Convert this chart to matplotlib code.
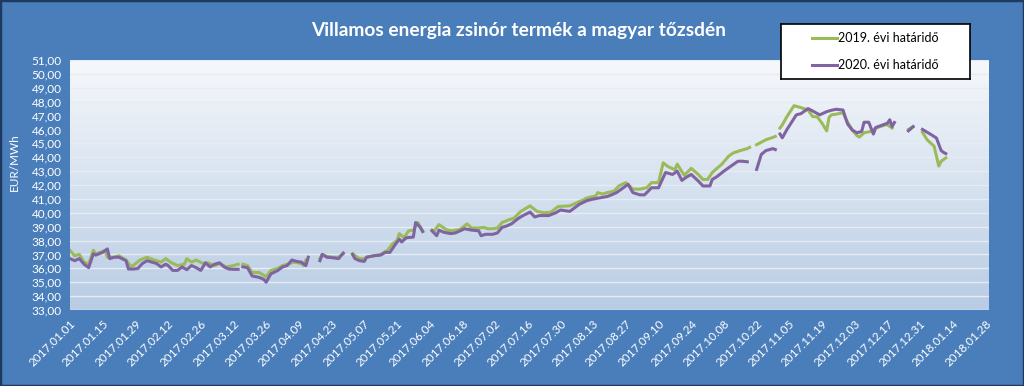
import numpy as np
import pandas as pd
import matplotlib
matplotlib.use("Agg")
import matplotlib.pyplot as plt
from matplotlib.colors import LinearSegmentedColormap
from matplotlib.lines import Line2D
from matplotlib.patches import Rectangle

plt.rcParams["font.family"] = ["Lato", "DejaVu Sans"]

title = "Villamos energia zsinór termék a magyar tőzsdén"
ylabel = "EUR/MWh"
label_2019 = "2019. évi határidő"
label_2020 = "2020. évi határidő"

# 2019. évi határidő (NaN = nincs kereskedés, szakadás a vonalban)
green_dates = [
    "2017-01-01", "2017-01-03", "2017-01-05", "2017-01-07", "2017-01-09", "2017-01-11", "2017-01-12",
    "2017-01-14", "2017-01-16", "2017-01-17", "2017-01-20", "2017-01-22", "2017-01-25", "2017-01-27",
    "2017-01-28", "2017-01-31", "2017-02-03", "2017-02-06", "2017-02-09", "2017-02-11", "2017-02-13",
    "2017-02-16", "2017-02-19", "2017-02-20", "2017-02-22", "2017-02-24", "2017-02-27", "2017-03-01",
    "2017-03-04", "2017-03-06", "2017-03-09", "2017-03-12", "2017-03-14", "2017-03-15", "2017-03-16",
    "2017-03-18", "2017-03-20", "2017-03-23", "2017-03-25", "2017-03-26", "2017-03-28", "2017-03-31",
    "2017-04-02", "2017-04-05", "2017-04-07", "2017-04-10", "2017-04-11", "2017-04-12", "2017-04-15",
    "2017-04-18", "2017-04-19", "2017-04-21", "2017-04-24", "2017-04-26", "2017-04-28", "2017-04-30",
    "2017-05-02", "2017-05-04", "2017-05-05", "2017-05-07", "2017-05-08", "2017-05-11", "2017-05-14",
    "2017-05-17", "2017-05-19", "2017-05-21", "2017-05-22", "2017-05-24", "2017-05-26", "2017-05-28",
    "2017-05-30", "2017-05-31", "2017-06-01", "2017-06-03", "2017-06-05", "2017-06-06", "2017-06-08",
    "2017-06-11", "2017-06-13", "2017-06-15", "2017-06-17", "2017-06-20", "2017-06-22", "2017-06-25",
    "2017-06-27", "2017-06-29", "2017-07-01", "2017-07-03", "2017-07-05", "2017-07-08", "2017-07-10",
    "2017-07-13", "2017-07-17", "2017-07-20", "2017-07-23", "2017-07-26", "2017-07-29", "2017-08-03",
    "2017-08-07", "2017-08-09", "2017-08-10", "2017-08-12", "2017-08-14", "2017-08-15", "2017-08-17",
    "2017-08-19", "2017-08-22", "2017-08-24", "2017-08-27", "2017-08-30", "2017-09-02", "2017-09-05",
    "2017-09-07", "2017-09-10", "2017-09-12", "2017-09-14", "2017-09-17", "2017-09-18", "2017-09-21",
    "2017-09-24", "2017-09-27", "2017-09-29", "2017-10-01", "2017-10-03", "2017-10-05", "2017-10-07",
    "2017-10-10", "2017-10-12", "2017-10-15", "2017-10-18", "2017-10-19", "2017-10-20", "2017-10-22",
    "2017-10-26", "2017-10-29", "2017-10-30", "2017-10-31", "2017-11-01", "2017-11-02", "2017-11-04",
    "2017-11-07", "2017-11-10", "2017-11-13", "2017-11-15", "2017-11-17", "2017-11-19", "2017-11-21",
    "2017-11-22", "2017-11-23", "2017-11-25", "2017-11-28", "2017-11-30", "2017-12-02", "2017-12-04",
    "2017-12-05", "2017-12-07", "2017-12-10", "2017-12-12", "2017-12-14", "2017-12-16", "2017-12-17",
    "2017-12-19", "2017-12-22", "2017-12-26", "2017-12-28", "2017-12-30", "2018-01-01", "2018-01-03",
    "2018-01-06", "2018-01-08", "2018-01-09", "2018-01-11",
]
green_values = [
    37.29, 36.9, 37.0, 36.45, 36.3, 37.3, 37.05,
    37.15, 37.3, 36.8, 36.8, 36.9, 36.6, 36.15,
    36.2, 36.6, 36.8, 36.6, 36.45, 36.7, 36.45,
    36.2, 36.3, 36.7, 36.45, 36.6, 36.35, 36.4,
    36.2, 36.35, 36.1, 36.2, 36.3, np.nan, 36.3,
    36.2, 35.7, 35.7, 35.5, 35.4, 35.85, 36.0,
    36.2, 36.35, 36.45, 36.35, 36.2, 36.6, np.nan,
    36.7, 37.0, 36.85, 36.8, 36.8, 37.05, np.nan,
    37.05, 36.8, 36.7, 36.7, 36.8, 36.9, 37.0,
    37.3, 37.75, 38.0, 38.5, 38.2, 38.7, 38.75,
    39.3, 38.95, 38.7, np.nan, 38.76, 38.7, 39.15,
    38.8, 38.7, 38.75, 38.8, 39.2, 38.9, 38.9,
    38.95, 38.85, 38.85, 38.9, 39.3, 39.5, 39.6,
    40.1, 40.5, 40.1, 40.0, 40.05, 40.45, 40.5,
    40.8, 40.93, 41.05, 41.14, 41.2, 41.45, 41.35,
    41.45, 41.57, 41.93, 42.17, 41.7, 41.7, 41.81,
    42.17, 42.17, 43.6, 43.33, 43.1, 43.5, 42.7,
    43.2, 42.76, 42.4, 42.4, 42.9, 43.2, 43.48,
    44.07, 44.31, 44.48, 44.62, 44.71, np.nan, 44.9,
    45.26, 45.43, 45.5, np.nan, 46.1, 46.33, 46.93,
    47.71, 47.57, 47.4, 46.93, 46.9, 46.45, 45.9,
    46.86, 47.05, 47.1, 47.2, 46.5, 45.95, 45.55,
    45.45, 45.76, 45.86, 46.1, 46.21, 46.33, 46.33,
    46.1, np.nan, 46.0, 46.2, np.nan, 45.8, 45.26,
    44.79, 43.36, 43.71, 43.95,
]

# 2020. évi határidő
purple_dates = [
    "2017-01-01", "2017-01-03", "2017-01-05", "2017-01-07", "2017-01-09", "2017-01-11", "2017-01-12",
    "2017-01-15", "2017-01-17", "2017-01-18", "2017-01-20", "2017-01-22", "2017-01-25", "2017-01-26",
    "2017-01-28", "2017-01-30", "2017-02-01", "2017-02-03", "2017-02-05", "2017-02-07", "2017-02-09",
    "2017-02-11", "2017-02-12", "2017-02-14", "2017-02-16", "2017-02-18", "2017-02-20", "2017-02-22",
    "2017-02-24", "2017-02-26", "2017-02-28", "2017-03-02", "2017-03-04", "2017-03-06", "2017-03-08",
    "2017-03-10", "2017-03-12", "2017-03-14", "2017-03-15", "2017-03-16", "2017-03-18", "2017-03-20",
    "2017-03-23", "2017-03-25", "2017-03-26", "2017-03-28", "2017-03-31", "2017-04-02", "2017-04-04",
    "2017-04-06", "2017-04-08", "2017-04-10", "2017-04-12", "2017-04-13", "2017-04-15", "2017-04-18",
    "2017-04-19", "2017-04-21", "2017-04-24", "2017-04-26", "2017-04-28", "2017-04-30", "2017-05-02",
    "2017-05-03", "2017-05-05", "2017-05-07", "2017-05-08", "2017-05-11", "2017-05-14", "2017-05-16",
    "2017-05-18", "2017-05-20", "2017-05-22", "2017-05-23", "2017-05-25", "2017-05-28", "2017-05-29",
    "2017-05-31", "2017-06-01", "2017-06-03", "2017-06-05", "2017-06-07", "2017-06-08", "2017-06-10",
    "2017-06-13", "2017-06-15", "2017-06-19", "2017-06-22", "2017-06-25", "2017-06-26", "2017-06-28",
    "2017-07-01", "2017-07-03", "2017-07-05", "2017-07-07", "2017-07-09", "2017-07-12", "2017-07-14",
    "2017-07-17", "2017-07-19", "2017-07-21", "2017-07-25", "2017-07-28", "2017-07-30", "2017-08-03",
    "2017-08-07", "2017-08-10", "2017-08-12", "2017-08-15", "2017-08-19", "2017-08-21", "2017-08-23",
    "2017-08-26", "2017-08-28", "2017-08-30", "2017-09-02", "2017-09-04", "2017-09-07", "2017-09-10",
    "2017-09-13", "2017-09-16", "2017-09-18", "2017-09-20", "2017-09-22", "2017-09-24", "2017-09-27",
    "2017-09-29", "2017-10-02", "2017-10-03", "2017-10-05", "2017-10-08", "2017-10-11", "2017-10-14",
    "2017-10-16", "2017-10-18", "2017-10-20", "2017-10-22", "2017-10-24", "2017-10-26", "2017-10-29",
    "2017-10-30", "2017-10-31", "2017-11-01", "2017-11-02", "2017-11-04", "2017-11-08", "2017-11-10",
    "2017-11-13", "2017-11-15", "2017-11-18", "2017-11-21", "2017-11-23", "2017-11-25", "2017-11-28",
    "2017-11-29", "2017-11-30", "2017-12-02", "2017-12-04", "2017-12-06", "2017-12-07", "2017-12-09",
    "2017-12-11", "2017-12-12", "2017-12-15", "2017-12-17", "2017-12-18", "2017-12-19", "2017-12-20",
    "2017-12-22", "2017-12-26", "2017-12-28", "2017-12-30", "2018-01-01", "2018-01-05", "2018-01-07",
    "2018-01-09", "2018-01-10", "2018-01-11",
]
purple_values = [
    36.7, 36.55, 36.7, 36.3, 36.05, 37.05, 36.95,
    37.15, 37.4, 36.7, 36.8, 36.8, 36.55, 35.95,
    35.95, 35.98, 36.35, 36.55, 36.45, 36.35, 36.1,
    36.3, 36.2, 35.85, 35.85, 36.1, 35.9, 36.2,
    36.05, 35.85, 36.4, 36.1, 36.3, 36.4, 36.1,
    35.95, 35.93, 35.93, np.nan, 36.1, 36.05, 35.45,
    35.35, 35.2, 35.0, 35.6, 35.85, 36.1, 36.2,
    36.6, 36.5, 36.45, 36.2, 36.8, np.nan, 36.55,
    37.0, 36.8, 36.75, 36.7, 37.1, np.nan, 37.0,
    36.7, 36.55, 36.5, 36.8, 36.9, 36.95, 37.15,
    37.15, 37.65, 38.1, 37.9, 38.2, 38.25, 39.3,
    38.95, 38.65, np.nan, 38.7, 38.35, 38.75, 38.6,
    38.5, 38.55, 38.85, 38.75, 38.7, 38.35, 38.45,
    38.45, 38.55, 38.95, 39.05, 39.2, 39.6, 39.8,
    40.05, 39.7, 39.8, 39.8, 40.0, 40.2, 40.1,
    40.6, 40.85, 40.95, 41.05, 41.17, 41.3, 41.45,
    41.81, 42.05, 41.45, 41.29, 41.29, 41.8, 41.8,
    42.9, 42.76, 43.0, 42.33, 42.57, 42.76, 42.29,
    41.93, 41.93, 42.4, 42.6, 43.0, 43.36, 43.71,
    43.71, 43.67, np.nan, 43.12, 44.2, 44.48, 44.62,
    44.55, np.nan, 45.67, 45.4, 46.0, 47.05, 47.14,
    47.5, 47.33, 47.05, 47.28, 47.38, 47.45, 47.4,
    46.86, 46.38, 45.95, 45.76, 45.86, 46.52, 46.52,
    45.67, 46.14, 46.33, 46.45, 46.7, 46.21, 46.5,
    np.nan, 45.9, 46.2, np.nan, 46.0, 45.6, 45.38,
    44.48, 44.35, 44.26,
]

y_min, y_max = 33, 51
x_start = pd.Timestamp("2017-01-01")
x_end = pd.Timestamp("2018-01-29 12:00")

bg_blue = "#4A7EBB"
green = "#9BBB59"
purple = "#8064A2"

fig = plt.figure(figsize=(10.24, 3.86), dpi=100, facecolor=bg_blue)
ax = fig.add_axes([70 / 1024, 1 - 310 / 386, 919 / 1024, 250 / 386])

# plot area gradient (felül fehér, alul világoskék)
grad = LinearSegmentedColormap.from_list("pa", ["#B8CCE4", "#F6F8FB"])
ax.imshow(np.linspace(0, 1, 256).reshape(-1, 1), cmap=grad, origin="lower",
          extent=[0, 1, 0, 1], transform=ax.transAxes, aspect="auto", zorder=0)

for v in range(y_min, y_max + 1):
    ax.axhline(v, color="#E6ECF4", lw=1.0, zorder=1)

ax.plot(pd.to_datetime(green_dates), green_values, color=green, lw=2.2, zorder=3)
ax.plot(pd.to_datetime(purple_dates), purple_values, color=purple, lw=2.2, zorder=4)

ax.set_xlim(x_start, x_end)
ax.set_ylim(y_min, y_max)
ax.set_yticks(range(y_min, y_max + 1))
ax.set_yticklabels([f"{v},00" for v in range(y_min, y_max + 1)])
ticks = pd.date_range("2017-01-01", "2018-01-28", freq="14D")
ax.set_xticks(ticks)
ax.set_xticklabels([t.strftime("%Y.%m.%d") for t in ticks], rotation=45,
                   ha="right", rotation_mode="anchor")
ax.tick_params(colors="white", labelsize=8.5, length=0)
ax.tick_params(axis="y", pad=6)
ax.tick_params(axis="x", pad=6)
for s in ax.spines.values():
    s.set_visible(False)
ax.set_ylabel(ylabel, color="white", fontsize=8.5)
ax.yaxis.set_label_coords(-50 / 919, (310 - 162) / 250)

fig.text(0.506, 0.92, title, color="white", fontsize=13.8, fontweight="bold",
         ha="center", va="center")

# jelmagyarázat doboz
lax = fig.add_axes([781 / 1024, 1 - 79 / 386, 189 / 1024, 55 / 386])
lax.set_xticks([])
lax.set_yticks([])
lax.set_facecolor("white")
for s in lax.spines.values():
    s.set_color("black")
    s.set_linewidth(1.2)
handles = [Line2D([], [], color=green, lw=2.2), Line2D([], [], color=purple, lw=2.2)]
lax.legend(handles, [label_2019, label_2020], loc="center", frameon=False,
           fontsize=9, handlelength=2.0, handletextpad=0.1, labelspacing=1.2)

fig.patches.append(Rectangle((0, 0), 1, 1, transform=fig.transFigure, fill=False,
                             edgecolor="#1F3A60", lw=2.5))

fig.savefig("out.png", dpi=100, facecolor=bg_blue)
